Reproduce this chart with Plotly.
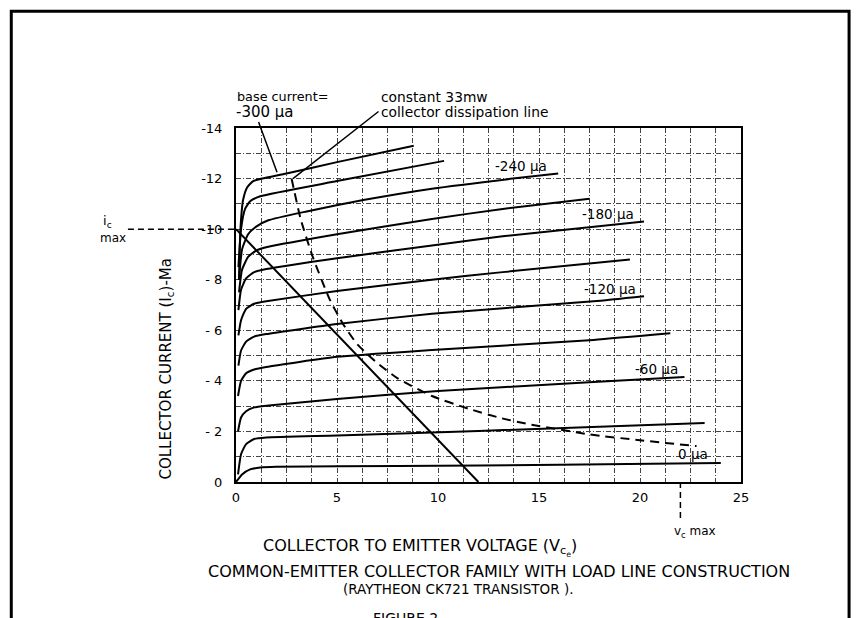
import plotly.graph_objects as go

FONT = "DejaVu Sans"

# ---- data (Vce in volts, Ic in mA, negative = PNP) ----
base_labels = ["0 µa", "-30 µa", "-60 µa", "-90 µa", "-120 µa", "-150 µa",
               "-180 µa", "-210 µa", "-240 µa", "-270 µa", "-300 µa"]

vce_0 = [0.0, 0.3, 0.7, 1.2, 2.0, 8.0, 16.0, 24.0]
ic_0 = [0.0, -0.3, -0.5, -0.57, -0.6, -0.63, -0.68, -0.75]

vce_30 = [0.1, 0.25, 0.5, 0.9, 1.5, 5.0, 12.0, 23.2]
ic_30 = [-0.3, -1.1, -1.5, -1.7, -1.76, -1.84, -2.02, -2.33]

vce_60 = [0.1, 0.25, 0.5, 0.9, 1.5, 5.0, 10.0, 17.7, 22.2]
ic_60 = [-2.0, -2.55, -2.8, -2.95, -3.02, -3.28, -3.6, -3.95, -4.15]

vce_90 = [0.1, 0.25, 0.5, 0.9, 1.5, 5.0, 9.7, 17.7, 21.5]
ic_90 = [-3.4, -4.0, -4.3, -4.45, -4.55, -4.95, -5.22, -5.62, -5.88]

vce_120 = [0.12, 0.25, 0.5, 0.9, 1.5, 5.0, 9.7, 17.7, 20.2]
ic_120 = [-4.6, -5.2, -5.55, -5.75, -5.85, -6.25, -6.65, -7.15, -7.35]

vce_150 = [0.12, 0.25, 0.5, 0.9, 1.5, 5.0, 9.7, 13.2, 19.5]
ic_150 = [-5.8, -6.4, -6.85, -7.05, -7.15, -7.55, -8.0, -8.3, -8.8]

vce_180 = [0.12, 0.25, 0.5, 0.9, 1.5, 5.0, 9.7, 13.2, 20.2]
ic_180 = [-6.8, -7.6, -8.05, -8.3, -8.42, -8.85, -9.35, -9.72, -10.3]

vce_210 = [0.15, 0.3, 0.6, 1.0, 1.6, 5.0, 9.7, 13.2, 17.5]
ic_210 = [-7.5, -8.4, -8.9, -9.15, -9.3, -9.8, -10.4, -10.8, -11.2]

vce_240 = [0.15, 0.3, 0.6, 1.0, 1.6, 3.5, 6.3, 9.7, 13.7, 15.95]
ic_240 = [-8.0, -9.2, -9.8, -10.1, -10.35, -10.7, -11.15, -11.6, -12.0, -12.2]

vce_270 = [0.12, 0.25, 0.45, 0.7, 1.2, 5.0, 10.3]
ic_270 = [-8.5, -10.0, -10.8, -11.1, -11.3, -11.9, -12.7]

vce_300 = [0.15, 0.22, 0.35, 0.55, 0.85, 1.3, 2.5, 5.0, 8.8]
ic_300 = [-8.0, -10.0, -11.15, -11.65, -11.9, -12.0, -12.2, -12.65, -13.3]

curves_vce = [vce_0, vce_30, vce_60, vce_90, vce_120, vce_150,
              vce_180, vce_210, vce_240, vce_270, vce_300]
curves_ic = [ic_0, ic_30, ic_60, ic_90, ic_120, ic_150,
             ic_180, ic_210, ic_240, ic_270, ic_300]

# constant 33 mW collector dissipation line
diss_vce = [2.75, 3.2, 3.8, 4.65, 5.3, 6.0, 7.0, 8.0, 9.7, 11.5, 13.1, 14.4, 17.5, 20.0, 22.8]
diss_ic = [-12.0, -10.4, -8.9, -7.2, -6.25, -5.45, -4.7, -4.1, -3.4, -2.9, -2.53, -2.3, -1.88, -1.65, -1.42]

# load line
load_vce = [0.0, 12.0]
load_ic = [-10.0, 0.0]

ic_max = -10.0
vc_max = 22.0

# labelled curves: label text and its position
curve_label_text = ["-240 µa", "-180 µa", "-120 µa", "-60 µa", "0 µa"]
curve_label_vce = [14.1, 18.4, 18.5, 20.8, 22.6]
curve_label_ic = [-12.5, -10.6, -7.65, -4.45, -1.1]

x_tickvals = [0, 5, 10, 15, 20, 25]
x_ticktext = ["0", "5", "10", "15", "20", "25"]
y_tickvals = [0, -2, -4, -6, -8, -10, -12, -14]
y_ticktext = ["0", "- 2", "- 4", "- 6", "- 8", "-10", "-12", "-14"]

fig = go.Figure()

for vx, iy, name in zip(curves_vce, curves_ic, base_labels):
    fig.add_trace(go.Scatter(x=vx, y=iy, mode="lines", name=name,
                             line=dict(color="black", width=2, shape="spline", smoothing=0.5),
                             showlegend=False, hoverinfo="skip"))

fig.add_trace(go.Scatter(x=diss_vce, y=diss_ic, mode="lines",
                         line=dict(color="black", width=2, dash="9px,6px", shape="spline", smoothing=0.5),
                         showlegend=False, hoverinfo="skip"))
fig.add_trace(go.Scatter(x=load_vce, y=load_ic, mode="lines",
                         line=dict(color="black", width=2),
                         showlegend=False, hoverinfo="skip"))

grid_style = dict(gridcolor="#444444", gridwidth=1, griddash="5px,2px,1px,2px")

fig.update_xaxes(range=[0, 25], tickmode="array", tickvals=x_tickvals, ticktext=x_ticktext,
                 showgrid=True, **grid_style,
                 minor=dict(tickmode="linear", tick0=0, dtick=1.25, showgrid=True, **grid_style),
                 showline=True, mirror=True, linecolor="black", linewidth=2,
                 ticks="", zeroline=False, ticklabelstandoff=2,
                 tickfont=dict(family=FONT, size=13, color="black"))
fig.update_yaxes(range=[0, -14], tickmode="array", tickvals=y_tickvals, ticktext=y_ticktext,
                 showgrid=True, **grid_style,
                 minor=dict(tickmode="linear", tick0=0, dtick=1, showgrid=True, **grid_style),
                 showline=True, mirror=True, linecolor="black", linewidth=2,
                 ticks="", zeroline=False, ticklabelstandoff=9,
                 tickfont=dict(family=FONT, size=13, color="black"))

ann = []
for t, vx, iy in zip(curve_label_text, curve_label_vce, curve_label_ic):
    ann.append(dict(x=vx, y=iy, xref="x", yref="y", text=t, showarrow=False,
                    font=dict(family=FONT, size=13.5, color="black")))

# leader lines
ann.append(dict(x=2.03, y=-12.25, ax=1.09, ay=-14.3, xref="x", yref="y", axref="x", ayref="y",
                text="", showarrow=True, arrowhead=0, arrowwidth=1.5, arrowcolor="black"))
ann.append(dict(x=2.82, y=-12.0, ax=7.13, ay=-14.7, xref="x", yref="y", axref="x", ayref="y",
                text="", showarrow=True, arrowhead=0, arrowwidth=1.5, arrowcolor="black"))

def ptext(x, y, t, size=12, xanchor="center", angle=0):
    ann.append(dict(x=x, y=y, xref="paper", yref="paper", text=t, showarrow=False,
                    xanchor=xanchor, yanchor="middle", textangle=angle,
                    font=dict(family=FONT, size=size, color="black")))

ptext(-0.002, 1.088, "base current=", xanchor="left", size=12.8)
ptext(-0.004, 1.045, "-300 µa", xanchor="left", size=15)
ptext(0.283, 1.088, "constant 33mw", xanchor="left", size=13.8)
ptext(0.283, 1.045, "collector dissipation line", xanchor="left", size=13.8)
ptext(-0.255, 0.736, "i<sub>c</sub>", size=13)
ptext(-0.244, 0.690, "max", size=12)
ptext(0.909, -0.142, "v<sub>c</sub> max", size=12)
ptext(-0.137, 0.32, "COLLECTOR CURRENT (I<sub>c</sub>)-Ma", size=15, angle=-90)
ptext(0.364, -0.184, "COLLECTOR TO EMITTER VOLTAGE (V<sub>c<sub>e</sub></sub>)", size=16)
ptext(0.521, -0.254, "COMMON-EMITTER COLLECTOR FAMILY WITH LOAD LINE CONSTRUCTION", size=16)
ptext(0.44, -0.303, "(RAYTHEON CK721 TRANSISTOR ).", size=13.5)
ptext(0.335, -0.383, "FIGURE 2", size=14)

shapes = [
    # i_c max dashed marker
    dict(type="line", xref="paper", yref="y", x0=-0.214, x1=0, y0=ic_max, y1=ic_max,
         line=dict(color="black", width=1.5, dash="6px,4px")),
    # v_c max dashed marker
    dict(type="line", xref="x", yref="paper", x0=vc_max, x1=vc_max, y0=0, y1=-0.113,
         line=dict(color="black", width=1.5, dash="6px,4px")),
    # outer frame of the figure page
    dict(type="rect", xref="paper", yref="paper", x0=-0.445, x1=1.214, y0=-0.45, y1=1.330,
         line=dict(color="black", width=3)),
]

fig.update_layout(
    width=862, height=618,
    margin=dict(l=236, r=121, t=128, b=136),
    paper_bgcolor="white", plot_bgcolor="white",
    font=dict(family=FONT, color="black"),
    annotations=ann, shapes=shapes, showlegend=False,
)

fig.write_html("out.html", config={"displayModeBar": False},
               post_script="document.body.style.margin='0';")
